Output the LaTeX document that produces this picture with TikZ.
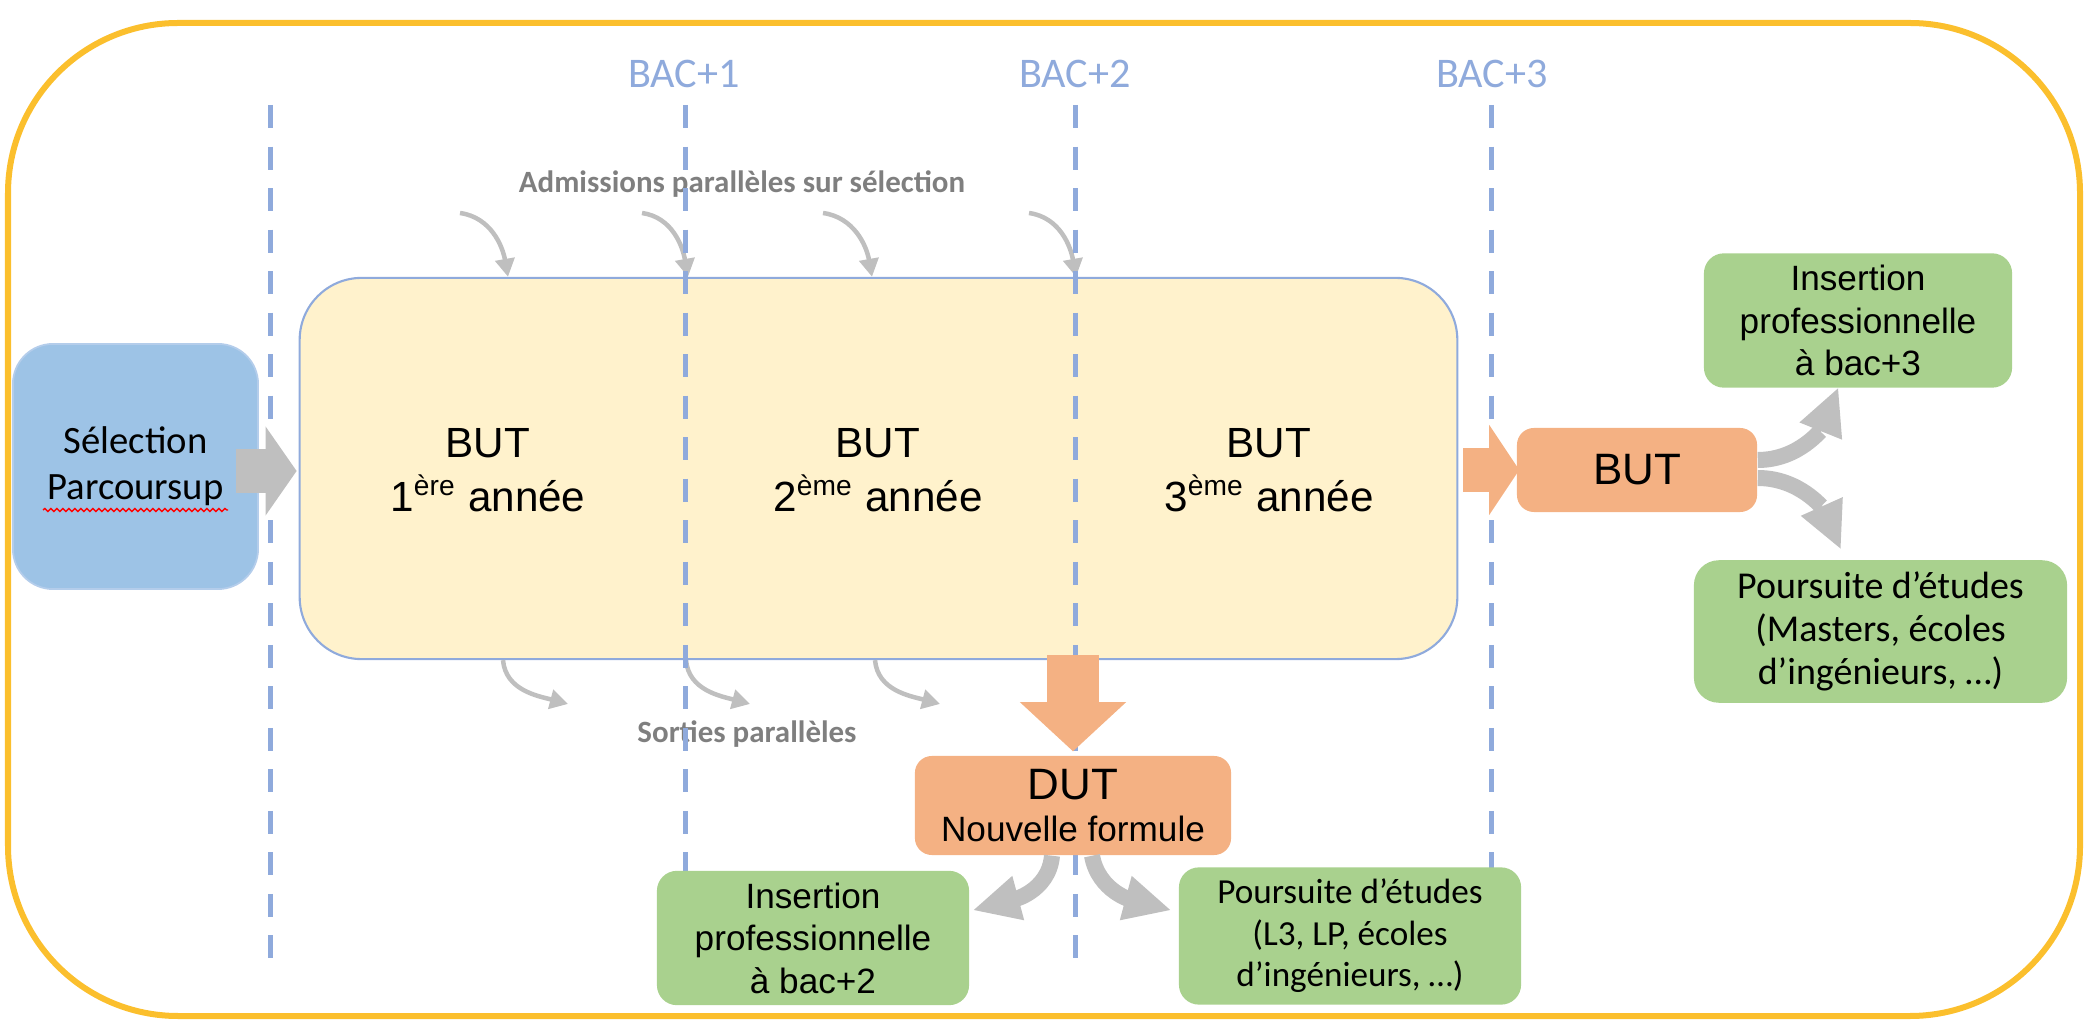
\documentclass[tikz,border=0pt]{standalone}
\usepackage{fontspec}
\setmainfont{Liberation Sans}
\newfontfamily\calibri{Carlito}
\usepackage{tikz}
\usetikzlibrary{
    arrows.meta,
    decorations.pathmorphing
}

\definecolor{frameyellow}{RGB}{251,191,45}
\definecolor{bacblue}{RGB}{143,170,220}
\definecolor{butcream}{RGB}{255,242,204}
\definecolor{selblue}{RGB}{157,195,230}
\definecolor{selborder}{RGB}{180,205,235}
\definecolor{arrowgray}{RGB}{191,191,191}
\definecolor{labelgray}{RGB}{127,127,127}
\definecolor{diplorange}{RGB}{244,177,131}
\definecolor{exitgreen}{RGB}{169,209,142}

\tikzset{
    bacline/.style={bacblue, line width=0.05cm, dash pattern=on 0.23cm off 0.185cm},
    baclabel/.style={text=bacblue, anchor=base, font={\calibri\fontsize{12}{14}\selectfont}},
    sidelabel/.style={text=labelgray, anchor=base, font={\calibri\bfseries\fontsize{8.8}{10}\selectfont}},
    yeartext/.style={align=center, font={\fontsize{12}{15.3}\selectfont}},
    smallarrow/.style={arrowgray, line width=0.045cm, -{Triangle[width=0.19cm,length=0.18cm]}},
    fatarrow/.style={line width=0.44cm, -{Triangle[width=0.89cm,length=0.31cm,line width=0pt]}},
    fatcurve/.style={arrowgray, line width=0.16cm, -{Triangle[width=0.46cm,length=0.46cm,line width=0pt]}},
    dipbox/.style={fill=diplorange, rounded corners=0.17cm, align=center},
    exitbox/.style={fill=exitgreen, rounded corners=0.2cm, align=center},
    arialexit/.style={font={\fontsize{10}{12.1}\selectfont}},
    calibriexit/.style={font={\calibri\fontsize{10}{11.8}\selectfont}}
}

\begin{document}
\begin{tikzpicture}[x=0.01cm, y=-0.01cm]
    \useasboundingbox (0,0) rectangle (2094,1028);
    \draw[frameyellow, line width=0.06cm, rounded corners=1.7cm] (8,23) rectangle (2080,1016);

    \node[fill=butcream, draw=bacblue, line width=0.6pt, rounded corners=0.62cm,
          minimum width=11.57cm, minimum height=3.81cm] (main) at (878.5,468.5) {};
    \node[yeartext] (year1) at (488,470) {BUT\\1\textsuperscript{ère} année};
    \node[yeartext] (year2) at (878,470) {BUT\\2\textsuperscript{ème} année};
    \node[yeartext] (year3) at (1269,470) {BUT\\3\textsuperscript{ème} année};

    \node[fill=selblue, draw=selborder, line width=0.5pt, rounded corners=0.4cm,
          minimum width=2.45cm, minimum height=2.45cm, align=center,
          font={\calibri\fontsize{11}{13.1}\selectfont}] (sel) at (135.5,466.5) {Sélection\\Parcoursup};
    \draw[red, line width=0.4pt, decorate, decoration={snake, amplitude=0.015cm, segment length=0.06cm}]
        (43,510) -- (228,510);

    \node[sidelabel] (adm) at (742,193) {Admissions parallèles sur sélection};
    \node[sidelabel] (sort) at (747,742) {Sorties parallèles};

    \foreach \s/\e [count=\i] in {460/508,642/688,823/872,1029/1076}{
        \coordinate (admin\i) at (\s,213);
        \coordinate (admout\i) at (\e,0);
        \draw[smallarrow] (admin\i) to[out=-8,in=100] (main.north -| admout\i);
    }
    \foreach \s/\e [count=\i] in {503/568,686/750,875/940}{
        \coordinate (sortin\i) at (\s,0);
        \coordinate (sortout\i) at (\e,704);
        \draw[smallarrow] (main.south -| sortin\i) to[out=-85,in=165] (sortout\i);
    }

    \foreach \x in {270,685,1075,1491}
        \draw[bacline] (\x,105) -- (\x,966);
    \node[baclabel] (bac1) at (684,88) {BAC+1};
    \node[baclabel] (bac2) at (1075,88) {BAC+2};
    \node[baclabel] (bac3) at (1492,88) {BAC+3};

    \node[dipbox, minimum width=2.40cm, minimum height=0.84cm,
          font={\fontsize{12.5}{15}\selectfont}] (butd) at (1637,470) {BUT};
    \node[dipbox, minimum width=3.16cm, minimum height=0.99cm,
          font={\fontsize{10}{11.7}\selectfont}] (dut) at (1073,805.5) {{\fontsize{12.5}{15}\selectfont DUT}\\Nouvelle formule};

    \node[exitbox, arialexit, minimum width=3.08cm, minimum height=1.25cm] (ins3) at (1858,320.5)
        {Insertion\\professionnelle\\à bac+3};
    \node[exitbox, rounded corners=0.25cm, minimum width=3.73cm, minimum height=1.39cm,
          font={\calibri\fontsize{10.8}{12.2}\selectfont}] (pours3) at (1880.5,631.5)
        {Poursuite d’études\\(Masters, écoles\\d’ingénieurs, …)};
    \node[exitbox, arialexit, minimum width=3.12cm, minimum height=1.32cm] (ins2) at (813,938)
        {Insertion\\professionnelle\\à bac+2};
    \node[exitbox, calibriexit, minimum width=3.42cm, minimum height=1.32cm] (pours2) at (1350,936)
        {Poursuite d’études\\(L3, LP, écoles\\d’ingénieurs, …)};

    \coordinate (selout) at ([yshift=-0.045cm]sel.east);
    \draw[fatarrow, arrowgray, shorten >=0.02cm] ([xshift=-0.23cm]selout) -- (selout -| main.west);
    \draw[fatarrow, diplorange, line width=0.43cm, -{Triangle[width=0.9cm,length=0.3cm,line width=0pt]},
          shorten <=0.05cm, shorten >=-0.03cm] (main.east |- butd.west) -- (butd.west);
    \draw[fatarrow, diplorange, line width=0.52cm, -{Triangle[width=1.06cm,length=0.49cm,line width=0pt]},
          shorten <=-0.05cm, shorten >=0.04cm] (main.south -| dut.north) -- (dut.north);

    \draw[fatcurve] ([yshift=0.1cm]butd.east) to[out=0,in=-112] ([xshift=-0.2cm]ins3.south);
    \draw[fatcurve] ([yshift=-0.08cm]butd.east) to[out=0,in=114] ([xshift=-0.4cm,yshift=0.11cm]pours3.north);
    \draw[fatcurve] ([xshift=-0.21cm]dut.south) to[out=-95,in=15] ([xshift=0.04cm,yshift=0.28cm]ins2.east);
    \draw[fatcurve] ([xshift=0.19cm]dut.south) to[out=-80,in=165] ([xshift=-0.08cm,yshift=0.26cm]pours2.west);
\end{tikzpicture}
\end{document}
